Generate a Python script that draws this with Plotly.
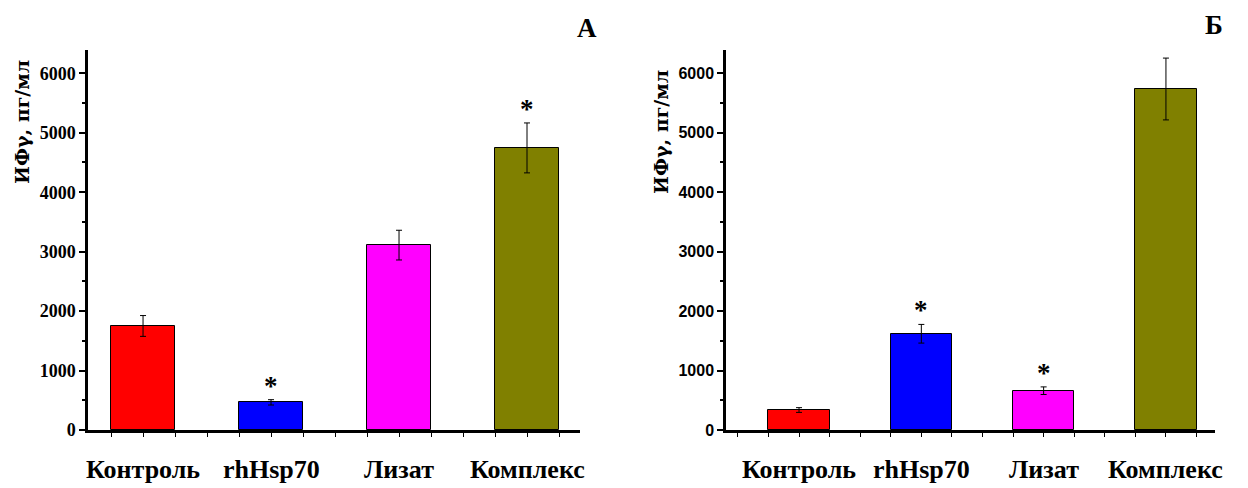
import plotly.graph_objects as go

categories = ["Контроль", "rhHsp70", "Лизат", "Комплекс"]
colors = ["#FF0000", "#0000FF", "#FF00FF", "#808000"]

values_a = [1750, 465, 3110, 4745]
errors_a = [175, 45, 250, 420]
signif_a = [False, True, False, True]

values_b = [336, 1619, 661, 5736]
errors_b = [40, 157, 64, 520]
signif_b = [False, True, True, False]

y_ticks = [0, 1000, 2000, 3000, 4000, 5000, 6000]
y_title = "ИФγ, пг/мл"
panel_labels = ["А", "Б"]

W, H = 1248, 488
OFF = 8  # page body margin
T, B = 50 - OFF, 58 + OFF
PH = H - T - B

def px_x(px):
    return (px - OFF) / W

def px_y(py):
    return (H - B - (py - OFF)) / PH

fig = go.Figure()
xpos = list(range(len(categories)))

for vals, errs, xa, ya in [(values_a, errors_a, "x", "y"), (values_b, errors_b, "x2", "y2")]:
    fig.add_trace(go.Bar(
        x=xpos, y=vals, width=0.5,
        marker=dict(color=colors, line=dict(color="black", width=1)),
        error_y=dict(type="data", array=errs, visible=True, color="black", thickness=1, width=3),
        xaxis=xa, yaxis=ya, showlegend=False,
    ))

annotations = []
for vals, errs, sig, xr, yr in [(values_a, errors_a, signif_a, "x", "y"), (values_b, errors_b, signif_b, "x2", "y2")]:
    for i, s in enumerate(sig):
        if s:
            annotations.append(dict(
                x=i, y=vals[i] + errs[i], xref=xr, yref=yr, text="*", showarrow=False,
                yanchor="middle", yshift=14,
                font=dict(family="Liberation Serif", size=27, color="black", weight="bold"),
            ))
    for i, c in enumerate(categories):
        annotations.append(dict(
            x=i, y=px_y(470), xref=xr, yref="paper", text=c, showarrow=False,
            yanchor="middle", xanchor="center",
            font=dict(family="Liberation Serif", size=26, color="black", weight="bold"),
        ))

for lbl, cx, cy in [(panel_labels[0], 587, 28), (panel_labels[1], 1214, 25)]:
    annotations.append(dict(
        x=px_x(cx), y=px_y(cy), xref="paper", yref="paper", text=lbl,
        showarrow=False, xanchor="center", yanchor="middle",
        font=dict(family="Liberation Serif", size=27, color="black", weight="bold"),
    ))

for cx, cy in [(22, 122), (661, 132)]:
    annotations.append(dict(
        x=px_x(cx), y=px_y(cy), xref="paper", yref="paper", text=y_title,
        showarrow=False, xanchor="center", yanchor="middle", textangle=-90,
        font=dict(family="DejaVu Serif", size=19, color="black", weight="bold"),
    ))

def xaxis_cfg(domain, rng, ticks_from):
    tv = []
    v = ticks_from
    while v <= 3.26:
        tv.append(v)
        v += 0.25
    return dict(
        domain=domain, range=rng, showline=True, linecolor="black", linewidth=2.5,
        ticks="outside", ticklen=4, tickwidth=1.2, tickcolor="black",
        tickvals=tv, showticklabels=False, showgrid=False, zeroline=False,
        fixedrange=True,
    )

def yaxis_cfg(anchor, family, size):
    return dict(
        anchor=anchor, domain=[0, 1], range=[0, 6392], showline=True, linecolor="black", linewidth=2.5,
        ticks="outside", ticklen=6, tickwidth=2, tickcolor="black",
        tickvals=y_ticks, ticktext=[str(t) for t in y_ticks],
        tickfont=dict(family=family, size=size, color="black", weight="bold"),
        minor=dict(dtick=500, ticks="outside", ticklen=3, tickwidth=2, tickcolor="black"),
        showgrid=False, zeroline=False, fixedrange=True,
    )

fig.update_layout(
    width=W, height=H,
    margin=dict(l=0, r=0, t=T, b=B),
    paper_bgcolor="white", plot_bgcolor="white",
    xaxis=xaxis_cfg([px_x(88), px_x(580)], [-0.43, 3.414], -0.25),
    xaxis2=xaxis_cfg([px_x(726), px_x(1215)], [-0.597, 3.401], -0.5) | dict(anchor="y2"),
    yaxis=yaxis_cfg("x", "Liberation Serif", 18),
    yaxis2=yaxis_cfg("x2", "Liberation Sans", 16),
    annotations=annotations,
    bargap=0,
)

fig.write_html("out.html")
